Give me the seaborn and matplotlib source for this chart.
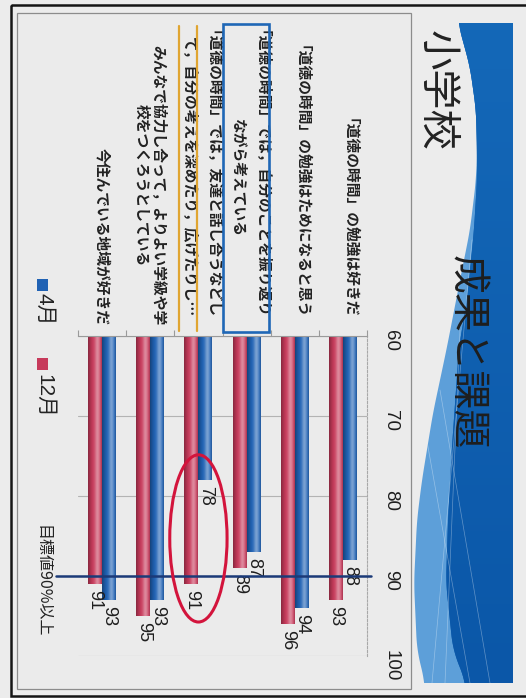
import numpy as np
import pandas as pd
import matplotlib
matplotlib.use("Agg")
import matplotlib.pyplot as plt
import matplotlib.colors as mcolors
import matplotlib.transforms as mtransforms
from matplotlib.patches import Rectangle, FancyBboxPatch, Ellipse, PathPatch
from matplotlib.path import Path
from matplotlib.lines import Line2D
import seaborn as sns

# ---- data -------------------------------------------------------------
categories = [
    "「道徳の時間」の勉強は好きだ",
    "「道徳の時間」の勉強はためになると思う",
    "「道徳の時間」では，自分のことを振り返り\nながら考えている",
    "「道徳の時間」では，友達と話し合うなどし\nて，自分の考えを深めたり，広げたりし…",
    "みんなで協力し合って，よりよい学級や学\n校をつくろうとしている",
    "今住んでいる地域が好きだ",
]
april = [88, 94, 87, 78, 93, 93]
december = [93, 96, 89, 91, 95, 91]
months = ["4月", "12月"]
value_ticks = [60, 70, 80, 90, 100]
target_value = 90
target_label = "目標値90%以上"
title_left = "小学校"
title_right = "成果と課題"

BLUE = "#2062b4"
RED = "#c73a5b"
JP = ["Noto Sans CJK JP", "DejaVu Sans"]
NUM = ["Liberation Sans", "Noto Sans CJK JP", "DejaVu Sans"]

sns.set_theme(style="white")
plt.rcParams["font.family"] = NUM

W, H = 526, 698
fig = plt.figure(figsize=(W / 100, H / 100), dpi=100)
fig.patch.set_facecolor("#ececec")

# ---- slide background (pixel coordinates) -----------------------------
bg = fig.add_axes([0, 0, 1, 1], zorder=0)
bg.set_xlim(0, W)
bg.set_ylim(H, 0)
bg.axis("off")
bg.add_patch(Rectangle((11, 5), 600, 691, fill=False, ec="#151515", lw=1.8))
bg.add_patch(Rectangle((17, 13), 394, 676, fc="#ebebeb", ec="#8c8c8c", lw=0.9))


def curve(pts, n=200):
    pts = np.array(pts, float)
    ys = np.linspace(pts[0, 1], pts[-1, 1], n)
    xs = np.interp(ys, pts[:, 1], pts[:, 0])
    # light smoothing of the polyline
    k = np.ones(9) / 9
    xs = np.convolve(np.pad(xs, 4, mode="edge"), k, mode="valid")
    return np.column_stack([xs, ys])


outer = curve([(458, 23), (470, 67), (476, 110), (477, 150), (476, 180), (470, 230),
               (460, 280), (447, 347), (433, 413), (422, 480), (417, 520),
               (414, 583), (417, 650), (425, 683)])
deep = curve([(458, 23), (470, 67), (476, 110), (477, 150), (477, 180), (474, 230),
              (467, 300), (459, 347), (452, 447), (448, 520), (446, 583),
              (453, 650), (466, 683)])

band = FancyBboxPatch((413, 23), 100, 660, boxstyle="round,pad=0,rounding_size=6",
                      fc="none", ec="none", transform=bg.transData)
bg.add_patch(band)


def region(edge):
    verts = np.vstack([edge, [[520, 683], [520, 23]], edge[:1]])
    return Path(verts, closed=True)


light_patch = PathPatch(region(outer), fc="#5d9fd9", ec="none", zorder=1)
bg.add_patch(light_patch)
light_patch.set_clip_path(band)

deep_patch = PathPatch(region(deep), fc="#0f60b2", ec="none", zorder=2)
bg.add_patch(deep_patch)
deep_patch.set_clip_path(band)
grad = np.linspace(0, 1, 100)[:, None]
cmap = mcolors.LinearSegmentedColormap.from_list("hdr", ["#1468b8", "#0b57a8"])
im = bg.imshow(grad, extent=(413, 513, 683, 23), cmap=cmap, aspect="auto", zorder=2.1)
im.set_clip_path(deep_patch)

for (x0, y0), (x1, y1) in [((472, 240), (432, 683)), ((425, 430), (470, 683)),
                           ((460, 330), (445, 683)), ((440, 390), (490, 683))]:
    ln = Line2D([x0, x1], [y0, y1], color="white", lw=0.5, alpha=0.35, zorder=2.5)
    bg.add_line(ln)
    ln.set_clip_path(light_patch)
bg.set_xlim(0, W)
bg.set_ylim(H, 0)

bg.text(436, 30, title_left, rotation=270, ha="center", va="top", fontsize=29,
        family=JP, color="#222222")
bg.text(466, 255, title_right, rotation=270, ha="center", va="top", fontsize=28,
        family=JP, color="#1e1e1e", zorder=5)

# legend drawn by hand so it can follow the rotated layout
for y_sq, y_txt, col, name in [(279, 293, BLUE, months[0]), (358, 374, RED, months[1])]:
    bg.add_patch(Rectangle((37, y_sq), 11, 12, fc=col, ec="none"))
    bg.text(44, y_txt, name, rotation=270, ha="center", va="top", fontsize=15,
            family=NUM, color="#222222")

bg.text(42, 525, target_label, rotation=270, ha="center", va="top", fontsize=11.5,
        family=JP, color="#222222")

# ---- bar chart ----------------------------------------------------------
ax = fig.add_axes([78 / W, 1 - 656 / H, (367 - 78) / W, (656 - 336) / H], zorder=2)
ax.patch.set_alpha(0)

df = pd.DataFrame({
    "項目": categories * 2,
    "月": [months[0]] * len(categories) + [months[1]] * len(categories),
    "割合": april + december,
})
sns.barplot(data=df, x="項目", y="割合", hue="月", order=categories, hue_order=months,
            palette=[BLUE, RED], width=0.58, saturation=1, legend=False, ax=ax,
            edgecolor="none")

# cylindrical shading of each bar (image laid over the visible part of the bar)
lo = value_ticks[0]
t = np.linspace(0, 1, 64)
light = 0.40 * np.exp(-((t - 0.32) / 0.2) ** 2)
dark = 0.32 * np.clip((t - 0.62) / 0.38, 0, 1) ** 1.4 + 0.15 * np.clip((0.12 - t) / 0.12, 0, 1)
for patch in list(ax.patches):
    base = np.array(mcolors.to_rgb(patch.get_facecolor()))
    col = base + (1 - base) * light[:, None]
    col = col * (1 - dark[:, None])
    x0, w = patch.get_x(), patch.get_width()
    top = patch.get_y() + patch.get_height()
    ax.imshow(col[None, :, :], extent=(x0, x0 + w, lo, top), aspect="auto",
              interpolation="bilinear", zorder=patch.get_zorder() + 0.1)

ax.set_xlim(len(categories) - 0.5, -0.5)
ax.set_ylim(value_ticks[-1], value_ticks[0])

for cont in ax.containers:
    ax.bar_label(cont, fmt="%g", padding=4, rotation=270, fontsize=13,
                 family=NUM, color="#1e1e1e")

ax.set_xlabel("")
ax.set_ylabel("")
ax.xaxis.tick_top()
ax.set_xticks(range(len(categories)))
ax.set_xticklabels(categories, rotation=270, fontsize=10.6, fontweight="bold",
                   family=JP, color="#222222", multialignment="center", linespacing=1.08)
ax.set_xticks(np.arange(-0.5, len(categories), 1), minor=True)
ax.tick_params(axis="x", which="major", length=0, pad=8)
ax.tick_params(axis="x", which="minor", top=True, bottom=False, length=4,
               color="#9a9a9a", width=0.8)

ax.yaxis.tick_right()
ax.set_yticks(value_ticks)
ax.set_yticklabels([str(v) for v in value_ticks], family=NUM)
ax.tick_params(axis="y", length=0, pad=11, labelsize=13.5, labelrotation=270,
               labelcolor="#1e1e1e")
ax.grid(axis="y", color="#b3b3b3", lw=0.8)
ax.grid(axis="x", visible=False)
ax.set_axisbelow(True)
for side in ("left", "bottom"):
    ax.spines[side].set_visible(False)
ax.spines["top"].set_color("#9a9a9a")
ax.spines["top"].set_linewidth(0.8)
ax.spines["right"].set_color("#a8a8a8")
ax.spines["right"].set_linewidth(0.8)
ax.spines["right"].set_linestyle((0, (2, 1.5)))

# target line at 90 %
blend = mtransforms.blended_transform_factory(ax.transAxes, ax.transData)
ax.plot([-0.076, 1.014], [target_value, target_value], transform=blend,
        color="#1b3a78", lw=1.8, clip_on=False, zorder=6)

# highlight the item with the biggest gain
ax.add_patch(Ellipse((3, 85.3), width=1.19, height=20.9, fill=False,
                     ec="#d3143c", lw=2.2, clip_on=False, zorder=7))

# boxes and underlines around the emphasised item labels
fig.canvas.draw()
renderer = fig.canvas.get_renderer()
labels = ax.get_xticklabels()
inv = fig.transFigure.inverted()

bb = labels[2].get_window_extent(renderer)
(fx0, fy0), (fx1, fy1) = inv.transform([[bb.x0 - 7, bb.y0 - 7], [bb.x1 + 6, bb.y1 + 6]])
fig.add_artist(Rectangle((fx0, fy0), fx1 - fx0, fy1 - fy0, transform=fig.transFigure,
                         fill=False, ec="#1f67b6", lw=1.9, zorder=8))

bb = labels[3].get_window_extent(renderer)
for px in (bb.x0 - 3, bb.x0 + bb.width / 2 - 1):
    (ux, uy0), (_, uy1) = inv.transform([[px, bb.y0 - 6], [px, bb.y1 + 4]])
    fig.add_artist(Line2D([ux, ux], [uy0, uy1], transform=fig.transFigure,
                          color="#e0a531", lw=1.6, zorder=8))

fig.savefig("out.png", dpi=100, facecolor=fig.get_facecolor())
